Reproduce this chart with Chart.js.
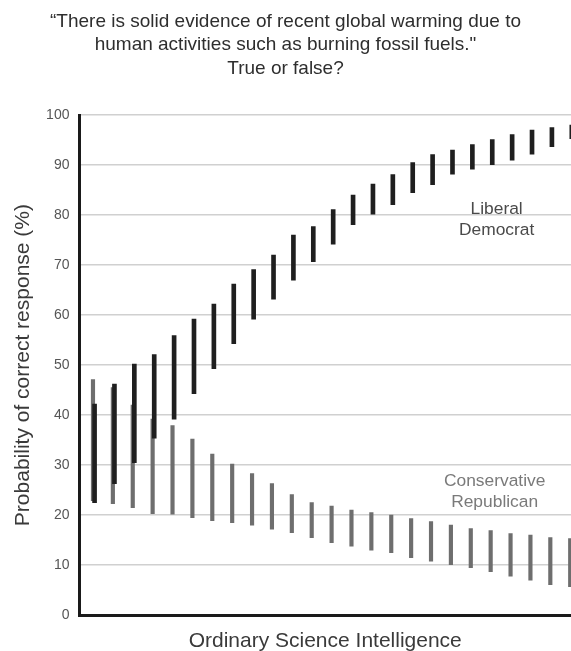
<!DOCTYPE html>
<html>
<head>
<meta charset="utf-8">
<title>Global warming belief by science intelligence</title>
<script src="https://cdn.jsdelivr.net/npm/chart.js@4/dist/chart.umd.min.js"></script>
<style>
  html, body { margin: 0; padding: 0; background: #ffffff; overflow: hidden; }
  #chart { display: block; }
</style>
</head>
<body>
<canvas id="chart" width="571" height="651"></canvas>
<script>
// Positions along the Ordinary Science Intelligence scale (one per interval)
const scoreLevels = [1, 2, 3, 4, 5, 6, 7, 8, 9, 10, 11, 12, 13, 14, 15, 16, 17, 18, 19, 20, 21, 22, 23, 24, 25];

// Liberal Democrat: probability (%) interval, low and high ends
const demLow  = [22.5, 26.3, 30.5, 35.4, 39.2, 44.3, 49.3, 54.3, 59.2, 63.2, 67.0, 70.7, 74.2, 78.1, 80.2, 82.1, 84.5, 86.1, 88.2, 89.2, 90.1, 91.0, 92.2, 93.7, 95.3];
const demHigh = [42.2, 46.2, 50.2, 52.1, 55.9, 59.2, 62.2, 66.2, 69.1, 72.0, 76.0, 77.7, 81.1, 84.0, 86.2, 88.1, 90.5, 92.1, 93.0, 94.1, 95.1, 96.1, 97.0, 97.5, 98.0];

// Conservative Republican: probability (%) interval, low and high ends
const repLow  = [22.9, 22.3, 21.5, 20.3, 20.2, 19.5, 18.9, 18.5, 18.0, 17.2, 16.5, 15.5, 14.5, 13.8, 13.0, 12.5, 11.5, 10.8, 10.1, 9.5, 8.7, 7.8, 7.0, 6.1, 5.7];
const repHigh = [47.1, 45.5, 42.0, 39.2, 37.9, 35.2, 32.2, 30.2, 28.3, 26.3, 24.1, 22.5, 21.8, 21.0, 20.5, 20.0, 19.3, 18.7, 18.0, 17.3, 16.9, 16.3, 16.0, 15.5, 15.3];

// Y axis tick values
const yTicks = [0, 10, 20, 30, 40, 50, 60, 70, 80, 90, 100];

// Text labels
const titleLines = ['\u201CThere is solid evidence of recent global warming due to', 'human activities such as burning fossil fuels."', 'True or false?'];
const demLabel = ['Liberal', 'Democrat'];
const repLabel = ['Conservative', 'Republican'];
const xTitle = 'Ordinary Science Intelligence';
const yTitle = 'Probability of correct response (%)';

const FONT = '"Liberation Sans", Arial, Helvetica, sans-serif';

const demData = scoreLevels.map((s, i) => ({ x: s, y: [demLow[i], demHigh[i]] }));
const repData = scoreLevels.map((s, i) => ({ x: s, y: [repLow[i], repHigh[i]] }));

// Group names written inside the plot, anchored in data coordinates
const groupLabels = {
  id: 'groupLabels',
  afterDatasetsDraw(chart, args, opts) {
    const ctx = chart.ctx;
    const xs = chart.scales.x, ys = chart.scales.y;
    ctx.save();
    ctx.font = opts.font;
    ctx.textAlign = 'center';
    ctx.textBaseline = 'middle';
    opts.items.forEach(item => {
      const cx = xs.getPixelForValue(item.x);
      const cy = ys.getPixelForValue(item.y);
      ctx.fillStyle = item.color;
      const n = item.lines.length;
      item.lines.forEach((line, k) => {
        ctx.fillText(line, cx, cy + (k - (n - 1) / 2) * opts.lineGap);
      });
    });
    ctx.restore();
  }
};

new Chart(document.getElementById('chart'), {
  type: 'bar',
  data: {
    datasets: [
      {
        label: 'Liberal Democrat',
        data: demData,
        xAxisID: 'xb',
        backgroundColor: '#1f1f1f',
        barThickness: 4,
        grouped: false
      },
      {
        label: 'Conservative Republican',
        data: repData,
        xAxisID: 'x',
        backgroundColor: '#6e6e6e',
        barThickness: 3.5,
        grouped: false
      }
    ]
  },
  options: {
    responsive: false,
    animation: false,
    devicePixelRatio: 1,
    layout: { padding: { left: 0, right: 0, top: 0, bottom: 0 } },
    plugins: {
      legend: { display: false },
      tooltip: { enabled: false },
      title: {
        display: true,
        text: titleLines,
        color: '#2e2e2e',
        font: { family: FONT, size: 19, weight: 'normal', lineHeight: 1.23 },
        padding: { top: 10, bottom: 35 }
      },
      groupLabels: {
        font: '17.4px ' + FONT,
        lineGap: 21,
        items: [
          { lines: demLabel, x: 21.3, y: 79.1, color: '#4a4a4a' },
          { lines: repLabel, x: 21.2, y: 24.6, color: '#7a7a7a' }
        ]
      }
    },
    scales: {
      x: {
        type: 'linear',
        position: 'bottom',
        offset: false,
        min: 0.32,
        max: 25.04,
        grid: { display: false, drawTicks: false, offset: false },
        border: { display: true, color: '#1a1a1a', width: 3 },
        ticks: { display: false },
        title: {
          display: true,
          text: xTitle,
          color: '#3a3a3a',
          font: { family: FONT, size: 21, weight: 'normal', lineHeight: 0.95 },
          padding: { top: 16, bottom: 0 }
        }
      },
      xb: {
        type: 'linear',
        display: false,
        offset: false,
        min: 0.24,
        max: 24.96
      },
      y: {
        min: 0,
        max: 100,
        afterBuildTicks(scale) {
          scale.ticks = yTicks.map(v => ({ value: v }));
        },
        grid: { color: '#d0d0d0', lineWidth: 1.5, drawTicks: false },
        border: { display: true, color: '#1a1a1a', width: 3 },
        ticks: {
          color: '#555555',
          padding: 10,
          font: { family: FONT, size: 14 }
        },
        title: {
          display: true,
          text: yTitle,
          color: '#3a3a3a',
          font: { family: FONT, size: 21, weight: 'normal', lineHeight: 1.1 },
          padding: { top: 12, bottom: 1 }
        }
      }
    }
  },
  plugins: [groupLabels]
});
</script>
</body>
</html>
